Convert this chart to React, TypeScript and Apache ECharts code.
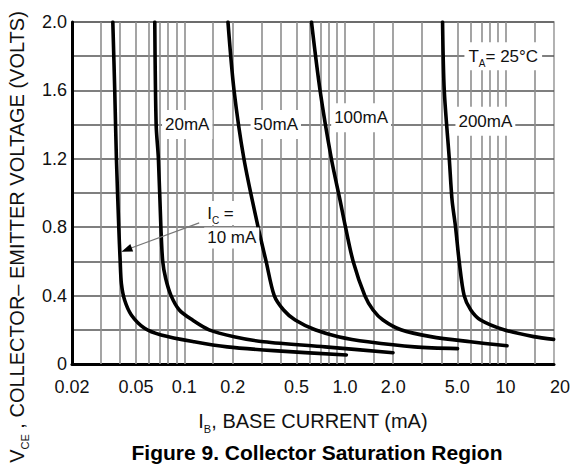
import React, { useEffect, useRef } from 'react';
import * as echarts from 'echarts';

// Axis ticks
const xTickValues = [0.02, 0.05, 0.1, 0.2, 0.5, 1, 2, 5, 10, 20];
const xTickLabels = ['0.02', '0.05', '0.1', '0.2', '0.5', '1.0', '2.0', '5.0', '10', '20'];
const yTickLabels = ['0', '0.4', '0.8', '1.2', '1.6', '2.0'];
const xGridValues = [
  0.03, 0.04, 0.05, 0.06, 0.07, 0.08, 0.09, 0.1, 0.15,
  0.2, 0.3, 0.4, 0.5, 0.6, 0.7, 0.8, 0.9, 1, 1.5,
  2, 3, 4, 5, 6, 7, 8, 9, 10, 15,
];

// Curves: I_B (mA) and V_CE (V)
const ib10 = [0.0359, 0.0369, 0.0378, 0.0391, 0.0399, 0.0406, 0.0425, 0.0468, 0.0566, 0.0717, 0.1153, 0.185, 0.36, 1.02];
const vce10 = [2.0, 1.6, 1.2, 0.8, 0.6, 0.47, 0.374, 0.287, 0.209, 0.17, 0.13, 0.10, 0.078, 0.053];

const ib20 = [0.0655, 0.0668, 0.069, 0.0715, 0.0734, 0.0766, 0.0827, 0.0931, 0.1125, 0.1427, 0.204, 0.312, 0.752, 1.99];
const vce20 = [2.0, 1.4, 1.2, 0.8, 0.6, 0.5, 0.4, 0.316, 0.257, 0.2, 0.16, 0.13, 0.10, 0.066];

const ib50 = [0.187, 0.204, 0.235, 0.288, 0.323, 0.363, 0.415, 0.49, 0.652, 0.909, 1.39, 2.71, 5.02];
const vce50 = [2.0, 1.6, 1.2, 0.8, 0.6, 0.4, 0.316, 0.257, 0.2, 0.16, 0.13, 0.10, 0.09];

const ib100 = [0.619, 0.70, 0.823, 0.931, 1.008, 1.125, 1.329, 1.496, 1.725, 2.23, 3.42, 6.04, 10.2];
const vce100 = [2.0, 1.6, 1.2, 0.96, 0.8, 0.6, 0.4, 0.316, 0.257, 0.2, 0.16, 0.13, 0.107];

const ib200 = [4.05, 4.15, 4.46, 4.64, 4.88, 5.14, 5.52, 6.07, 6.99, 9.76, 14.95, 19.9];
const vce200 = [2.0, 1.6, 1.2, 0.96, 0.8, 0.6, 0.4, 0.316, 0.257, 0.2, 0.16, 0.144];

// Curve labels (anchor in data space)
const curveLabels = ['20mA', '50mA', '100mA', '200mA'];
const curveLabelIB = [0.1043, 0.371, 1.26, 7.48];
const curveLabelV = [1.4, 1.4, 1.44, 1.42];

const FONT = '"Liberation Sans", Arial, Helvetica, sans-serif';

const App: React.FC = () => {
  const ref = useRef<HTMLDivElement>(null);

  useEffect(() => {
    document.body.style.margin = '0';
    if (!ref.current) return;
    const chart = echarts.init(ref.current, null, { renderer: 'svg' });
    const L = Math.log10;

    const toData = (ib: number[], v: number[]) => ib.map((x, i) => [L(x), v[i]]);
    const curves = [
      toData(ib10, vce10),
      toData(ib20, vce20),
      toData(ib50, vce50),
      toData(ib100, vce100),
      toData(ib200, vce200),
    ];

    const xLabelFor = (v: number) => {
      let best = 0;
      let bd = Infinity;
      xTickValues.forEach((t, i) => {
        const d = Math.abs(L(t) - v);
        if (d < bd) { bd = d; best = i; }
      });
      if (bd > 0.01) return '';
      if (best === xTickValues.length - 1) return '{r|' + xTickLabels[best] + '}';
      return xTickLabels[best];
    };

    const subRich = {
      n: { fontSize: 20, fontFamily: FONT, color: '#111', lineHeight: 26, verticalAlign: 'middle' },
      s: { fontSize: 11, fontFamily: FONT, color: '#111', lineHeight: 12, verticalAlign: 'bottom' },
    };

    const option: any = {
      animation: false,
      grid: {
        left: 72, right: 16, top: 22, bottom: 101,
        show: true, borderColor: '#999', borderWidth: 1.5, backgroundColor: 'transparent',
      },
      xAxis: {
        type: 'value',
        min: L(0.02),
        max: L(20),
        axisLine: { show: true, onZero: false, lineStyle: { color: '#000', width: 3 } },
        axisTick: { show: false },
        splitLine: { show: false },
        axisLabel: {
          customValues: xTickValues.map(L),
          formatter: xLabelFor,
          fontSize: 18,
          fontFamily: FONT,
          color: '#111',
          margin: 14,
          rich: { r: { fontSize: 18, fontFamily: FONT, color: '#111', padding: [0, 0, 0, 12] } },
        },
        name: '{n|I}{s|B}{n|, BASE CURRENT (mA)}',
        nameLocation: 'middle',
        nameGap: 44,
        nameTextStyle: { rich: subRich },
      },
      yAxis: {
        type: 'value',
        min: 0,
        max: 2,
        interval: 0.2,
        axisLine: { show: true, onZero: false, lineStyle: { color: '#000', width: 3 } },
        axisTick: { show: false },
        splitLine: { show: true, lineStyle: { color: '#555', width: 1.6 } },
        axisLabel: {
          formatter: (v: number) => {
            const k = Math.round(v / 0.2);
            if (k % 2 !== 0) return '';
            return yTickLabels[k / 2] ?? '';
          },
          fontSize: 18,
          fontFamily: FONT,
          color: '#111',
          margin: 5,
        },
      },
      series: [
        {
          type: 'line',
          data: [],
          z: 1,
          silent: true,
          markLine: {
            silent: true,
            symbol: ['none', 'none'],
            label: { show: false },
            emphasis: { disabled: true },
            lineStyle: { color: '#8e8e8e', width: 1.6, type: 'solid' },
            data: xGridValues.map((v) => ({ xAxis: L(v) })),
          },
        },
        ...curves.map((d) => ({
          type: 'line',
          data: d,
          z: 10,
          showSymbol: false,
          smooth: 0.3,
          silent: true,
          lineStyle: { color: '#000', width: 3.6, cap: 'round', join: 'round' },
        })),
      ],
    };

    chart.setOption(option);

    const px = (ib: number, v: number) => chart.convertToPixel({ gridIndex: 0 }, [L(ib), v]) as number[];

    const graphics: any[] = [];
    curveLabels.forEach((t, i) => {
      const p = px(curveLabelIB[i], curveLabelV[i]);
      graphics.push({
        type: 'text', x: p[0], y: p[1], z: 50,
        style: {
          text: t, fontSize: 17, fontFamily: FONT, fill: '#111',
          align: 'center', verticalAlign: 'middle',
          backgroundColor: '#fff', padding: [6, 3],
        },
      });
    });

    // T_A = 25°C
    const pT = px(9.26, 1.8);
    graphics.push({
      type: 'text', x: pT[0] + 3, y: pT[1], z: 50,
      style: {
        text: '{n|T}{s|A}{n|= 25°C}',
        align: 'center', verticalAlign: 'middle',
        backgroundColor: '#fff', padding: [2, 4],
        rich: {
          n: { fontSize: 17, fontFamily: FONT, fill: '#111', lineHeight: 24, verticalAlign: 'middle' },
          s: { fontSize: 10, fontFamily: FONT, fill: '#111', lineHeight: 11, verticalAlign: 'bottom' },
        },
      },
    });

    // I_C = 10 mA annotation
    const pIc = px(0.133, 0.883);
    graphics.push({
      type: 'text', x: pIc[0], y: pIc[1], z: 50,
      style: {
        text: '{n|I}{s|C}{n| =}',
        align: 'left', verticalAlign: 'middle',
        backgroundColor: '#fff', padding: [0, 3],
        rich: {
          n: { fontSize: 17, fontFamily: FONT, fill: '#111', lineHeight: 24, verticalAlign: 'middle' },
          s: { fontSize: 10, fontFamily: FONT, fill: '#111', lineHeight: 11, verticalAlign: 'bottom' },
        },
      },
    });
    const p10 = px(0.133, 0.737);
    graphics.push({
      type: 'text', x: p10[0], y: p10[1], z: 50,
      style: {
        text: '10 mA', fontSize: 17, fontFamily: FONT, fill: '#111',
        align: 'left', verticalAlign: 'middle',
        backgroundColor: '#fff', padding: [2, 3],
      },
    });

    // Arrow
    const tail = px(0.1238, 0.825);
    const tip = px(0.0406, 0.657);
    const dx = tip[0] - tail[0];
    const dy = tip[1] - tail[1];
    const len = Math.sqrt(dx * dx + dy * dy);
    const ux = dx / len;
    const uy = dy / len;
    const hl = 11;
    const hw = 4;
    graphics.push({
      type: 'line', z: 55,
      shape: { x1: tail[0], y1: tail[1], x2: tip[0] - ux * (hl - 2), y2: tip[1] - uy * (hl - 2) },
      style: { stroke: '#777', lineWidth: 1.2 },
    });
    graphics.push({
      type: 'polygon', z: 56,
      shape: {
        points: [
          [tip[0], tip[1]],
          [tip[0] - ux * hl - uy * hw, tip[1] - uy * hl + ux * hw],
          [tip[0] - ux * hl + uy * hw, tip[1] - uy * hl - ux * hw],
        ],
      },
      style: { fill: '#000' },
    });

    // Y axis title (rotated)
    graphics.push({
      type: 'text', x: 17, y: 237, rotation: Math.PI / 2, z: 50,
      style: {
        text: '{n|V}{s|CE}{n| , COLLECTOR– EMITTER VOLTAGE (VOLTS)}',
        align: 'center', verticalAlign: 'middle',
        rich: {
          n: { fontSize: 20, fontFamily: FONT, fill: '#111', lineHeight: 26, verticalAlign: 'middle' },
          s: { fontSize: 11, fontFamily: FONT, fill: '#111', lineHeight: 12, verticalAlign: 'bottom' },
        },
      },
    });

    // Figure caption
    graphics.push({
      type: 'text', x: 317, y: 452, z: 50,
      style: {
        text: 'Figure 9. Collector Saturation Region',
        fontSize: 21, fontWeight: 'bold', fontFamily: FONT, fill: '#000',
        align: 'center', verticalAlign: 'middle',
      },
    });

    chart.setOption({ graphic: graphics });

    return () => {
      chart.dispose();
    };
  }, []);

  return <div ref={ref} style={{ width: 573, height: 465 }} />;
};

export default App;
